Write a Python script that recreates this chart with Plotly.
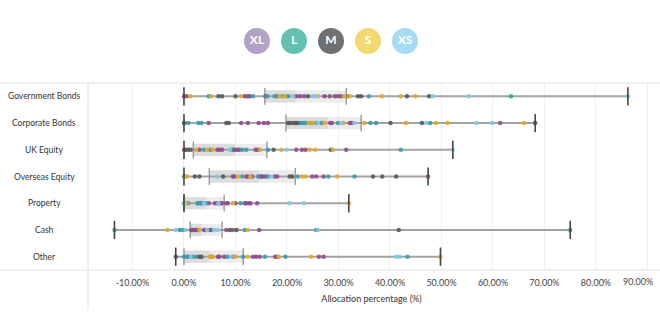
import plotly.graph_objects as go

categories = ["Government Bonds", "Corporate Bonds", "UK Equity", "Overseas Equity",
              "Property", "Cash", "Other"]
mins = [0.0, 0.0, 0.0, 0.0, 0.0, -13.5, -1.6]
q1s = [15.7, 19.8, 1.8, 4.9, 0.0, 1.2, 0.0]
medians = [21.7, 28.0, 9.9, 14.6, 4.4, 3.5, 5.0]
q3s = [31.5, 34.4, 16.1, 21.6, 7.8, 7.4, 11.5]
maxs = [86.2, 68.2, 52.2, 47.4, 32.0, 75.0, 49.8]

size_labels = ["XL", "L", "M", "S", "XS"]

gov_values = [0, 0.5, 1.3, 4.8, 5.3, 6.7, 7.4, 10.0, 11.0, 11.8, 12.3, 12.8, 13.4, 15.8, 16.2, 17.6,
              18.1, 18.6, 19.2, 19.5, 20.2, 21.2, 21.8, 22.5, 23.3, 24.1, 25.0, 25.7, 26.0, 27.3, 28.3,
              29.3, 29.9, 30.5, 31.1, 31.8, 32.2, 33.8, 34.4, 35.9, 38.4, 42.1, 43.3, 44.9, 47.6,
              48.3, 55.3, 63.5, 86.2]
gov_sizes = ["XL", "XL", "S", "L", "S", "M", "M", "M", "S", "XL", "XL", "XL", "L", "XL", "L", "L",
             "L", "S", "L", "S", "L", "XS", "XL", "XL", "XL", "M", "XS", "XS", "S", "XL", "XL",
             "XL", "XL", "XL", "S", "L", "S", "M", "M", "L", "S", "S", "M", "S", "M",
             "XS", "XS", "L", "XS"]

corp_values = [0, 0.8, 2.8, 3.4, 4.8, 8.2, 8.7, 11.1, 12.4, 14.5, 15.5, 16.3, 20.2, 20.6, 21.2, 21.6,
               22.0, 22.5, 22.9, 23.3, 23.8, 24.2, 24.7, 25.0, 25.7, 26.0, 26.7, 27.3, 28.4, 28.7,
               29.9, 30.5, 31.0, 32.2, 32.6, 33.1, 35.0, 36.2, 37.3, 40.1, 43.1, 46.2, 47.0, 47.8,
               48.9, 51.2, 56.8, 59.9, 61.4, 66.0, 68.2]
corp_sizes = ["M", "L", "L", "L", "XL", "M", "M", "XL", "XL", "XL", "XL", "XL", "M", "M", "M", "M",
              "M", "L", "L", "L", "L", "S", "L", "S", "L", "XS", "L", "S", "XL", "XL",
              "L", "XS", "S", "XL", "XL", "XS", "S", "L", "L", "M", "S", "M", "XS", "L",
              "S", "S", "XS", "XS", "XL", "S", "M"]

uk_values = [0, 0.3, 0.8, 1.3, 2.4, 3.0, 3.9, 4.5, 5.1, 5.6, 6.5, 6.9, 7.4, 8.9, 9.2, 9.5, 9.8, 10.3,
             10.7, 11.3, 12.1, 13.9, 14.4, 14.8, 16.3, 17.4, 18.9, 19.9, 21.8, 22.9, 23.6, 24.4,
             25.5, 28.5, 28.9, 31.5, 42.1, 52.2]
uk_sizes = ["XL", "M", "M", "M", "S", "XL", "L", "S", "L", "S", "XL", "XL", "XL", "XS", "L", "XL",
            "XL", "XL", "XL", "L", "L", "XL", "XL", "S", "L", "M", "S", "XS", "XL", "XL", "XL", "S",
            "S", "M", "S", "XL", "L", "XS"]

overseas_values = [0, 0.3, 0.6, 2.1, 3.0, 6.5, 7.6, 9.5, 9.8, 10.5, 11.3, 12.1, 12.4, 12.9, 13.2,
                   14.4, 14.7, 15.0, 15.3, 15.8, 16.3, 17.0, 17.6, 18.1, 20.5, 21.0, 22.1, 22.9,
                   23.6, 24.9, 25.7, 27.1, 28.0, 29.7, 33.1, 36.7, 38.5, 41.2, 47.4]
overseas_sizes = ["L", "S", "S", "M", "M", "XS", "M", "XL", "XL", "S", "L", "XL", "XL", "S", "XL",
                  "L", "XL", "XL", "XL", "XL", "L", "XS", "XL", "XL", "M", "M", "L", "S",
                  "S", "XL", "XL", "XL", "L", "S", "L", "M", "M", "M", "XL"]

property_values = [0, 0.1, 0.5, 0.8, 2.6, 2.8, 3.2, 3.5, 3.9, 4.3, 4.8, 6.0, 6.5, 6.7, 7.1, 7.4,
                   8.2, 8.5, 9.5, 10.0, 11.0, 11.8, 12.1, 12.6, 12.9, 14.2, 20.5, 23.3, 32.0]
property_sizes = ["L", "XS", "S", "L", "L", "L", "XL", "L", "XS", "L", "XL", "XL", "XL", "XS", "XL",
                  "XL", "XL", "XL", "S", "XL", "L", "XL", "XL", "XL", "XL", "XL", "XS", "XS", "S"]

cash_values = [-13.5, -3.2, -1.6, -0.8, -0.2, 0.3, 1.4, 1.7, 2.1, 2.4, 2.7, 3.0, 3.9, 4.2, 4.5,
               5.0, 5.3, 5.8, 6.5, 8.2, 8.9, 9.5, 10.2, 11.8, 12.4, 14.6, 25.7, 26.0, 41.7, 75.0]
cash_sizes = ["L", "S", "XS", "L", "L", "XS", "XL", "XL", "XL", "XL", "XL", "S", "XL", "XL", "XS",
              "XL", "XL", "XS", "XS", "XL", "M", "XL", "M", "L", "S", "XL", "L", "XS", "M", "L"]

other_values = [-1.6, 0, 0.5, 0.9, 1.3, 1.7, 2.4, 3.0, 3.4, 5.0, 5.3, 5.6, 6.6, 6.9, 7.8, 8.4,
                9.2, 9.5, 10.0, 11.5, 12.4, 13.4, 14.0, 14.7, 15.7, 17.7, 18.1, 18.4, 19.7, 24.7,
                26.2, 27.1, 41.2, 41.9, 43.4, 49.8]
other_sizes = ["M", "L", "L", "XL", "XS", "L", "L", "M", "M", "S", "XL", "S", "XL", "XL", "XL", "L",
               "XS", "XL", "S", "L", "S", "XL", "XL", "XL", "L", "XL", "XL", "S", "L", "S",
               "XL", "XL", "XS", "XS", "L", "S"]

row_values = [gov_values, corp_values, uk_values, overseas_values, property_values, cash_values, other_values]
row_sizes = [gov_sizes, corp_sizes, uk_sizes, overseas_sizes, property_sizes, cash_sizes, other_sizes]

dot_colors = {"XL": "#8e4e8b", "L": "#3a9daa", "M": "#5a5a5a", "S": "#e3a82e", "XS": "#84c8e7"}
legend_colors = {"XL": "#b1a2c6", "L": "#62c1b3", "M": "#707070", "S": "#f1d970", "XS": "#a7daf6"}

FONT = "Segoe UI, Lato, Noto Sans, sans-serif"

fig = go.Figure()

# Box: Q1 -> median (darker), median -> Q3 (lighter)
fig.add_trace(go.Bar(
    y=categories, x=[m - a for m, a in zip(medians, q1s)], base=q1s, orientation="h",
    marker=dict(color="#dcdcdc", line=dict(width=0)), width=0.46, hoverinfo="skip", showlegend=False))
fig.add_trace(go.Bar(
    y=categories, x=[b - m for b, m in zip(q3s, medians)], base=medians, orientation="h",
    marker=dict(color="#ececec", line=dict(width=0)), width=0.46, hoverinfo="skip", showlegend=False))

# Whisker line min -> max
wx, wy = [], []
for c, lo, hi in zip(categories, mins, maxs):
    wx += [lo, hi, None]
    wy += [c, c, None]
fig.add_trace(go.Scatter(x=wx, y=wy, mode="lines", line=dict(color="#a3a3a3", width=2),
                         hoverinfo="skip", showlegend=False))

# Q1 / Q3 edges
fig.add_trace(go.Scatter(
    x=q1s + q3s, y=categories + categories, mode="markers",
    marker=dict(symbol="line-ns", size=12, line=dict(color="#8a8a8a", width=1.2)),
    hoverinfo="skip", showlegend=False))

# Dots
for size in size_labels:
    xs, ys = [], []
    for c, vals, szs in zip(categories, row_values, row_sizes):
        for v, s in zip(vals, szs):
            if s == size:
                xs.append(v)
                ys.append(c)
    fig.add_trace(go.Scatter(x=xs, y=ys, mode="markers",
                             marker=dict(color=dot_colors[size], size=4.5, opacity=0.9,
                                         line=dict(width=0)),
                             name=size, showlegend=False))

# Min / max caps
fig.add_trace(go.Scatter(
    x=mins + maxs, y=categories + categories, mode="markers",
    marker=dict(symbol="line-ns", size=13, line=dict(color="#444444", width=1.6)),
    hoverinfo="skip", showlegend=False))

# Legend circles
fig.add_trace(go.Scatter(
    x=list(range(len(size_labels))), y=[0.5] * len(size_labels), xaxis="x2", yaxis="y2",
    mode="markers+text", text=size_labels, textposition="middle center",
    textfont=dict(color="white", size=12, family=FONT, weight="bold"),
    marker=dict(size=26, color=[legend_colors[s] for s in size_labels], line=dict(width=0)),
    hoverinfo="skip", showlegend=False))

x_range = [-18.64, 91.46]
tickvals = [v for v in range(-10, 91, 10)]
ticktext = [f"{v:.2f}%" for v in tickvals]
last_label = ticktext[-1]
ticktext[-1] = ""

PW = 567.0
PH = 260.0

annotations = [
    dict(text=c, x=-44 / PW, xref="paper", y=c, yref="y", xanchor="center", yanchor="middle",
         showarrow=False, font=dict(size=8.5, color="#333333", family=FONT))
    for c in categories
]
annotations.append(dict(text=last_label, x=tickvals[-1], xref="x", y=0, yref="paper",
                        xanchor="center", yanchor="top", xshift=-9, yshift=-4, showarrow=False,
                        font=dict(size=9, color="#444444", family=FONT)))

fig.update_layout(
    width=660, height=330,
    margin=dict(l=88, r=5, t=10, b=60),
    paper_bgcolor="white", plot_bgcolor="white",
    barmode="overlay",
    font=dict(family=FONT, size=9, color="#333333"),
    xaxis=dict(range=x_range, tickvals=tickvals, ticktext=ticktext, showgrid=True,
               gridcolor="#f0f0f0", gridwidth=1, zeroline=False, showline=False,
               tickfont=dict(size=9, color="#444444"), ticks="outside", ticklen=4,
               tickcolor="rgba(0,0,0,0)",
               title=dict(text="Allocation percentage (%)", font=dict(size=9, color="#333333"),
                          standoff=8),
               fixedrange=True),
    yaxis=dict(domain=[0, 0.7192], range=[6.5, -0.5], type="category",
               categoryorder="array", categoryarray=categories,
               showticklabels=False, showgrid=False, zeroline=False, showline=False,
               fixedrange=True),
    xaxis2=dict(domain=[0, 1], range=[-4.568, 10.757], visible=False, anchor="y2", fixedrange=True),
    yaxis2=dict(domain=[0.7615, 1], range=[0, 1], visible=False, anchor="x2", fixedrange=True),
    shapes=[
        dict(type="line", xref="paper", yref="paper", x0=-88 / PW, x1=572 / PW,
             y0=(270 - 83) / PH, y1=(270 - 83) / PH, line=dict(color="#e0e0e0", width=1)),
        dict(type="line", xref="paper", yref="paper", x0=-88 / PW, x1=572 / PW,
             y0=0, y1=0, line=dict(color="#e0e0e0", width=1)),
        dict(type="line", xref="paper", yref="paper", x0=0, x1=0,
             y0=-40 / PH, y1=(270 - 83) / PH, line=dict(color="#e0e0e0", width=1)),
    ],
    annotations=annotations,
)

fig.write_html("out.html", config={"displayModeBar": False})
